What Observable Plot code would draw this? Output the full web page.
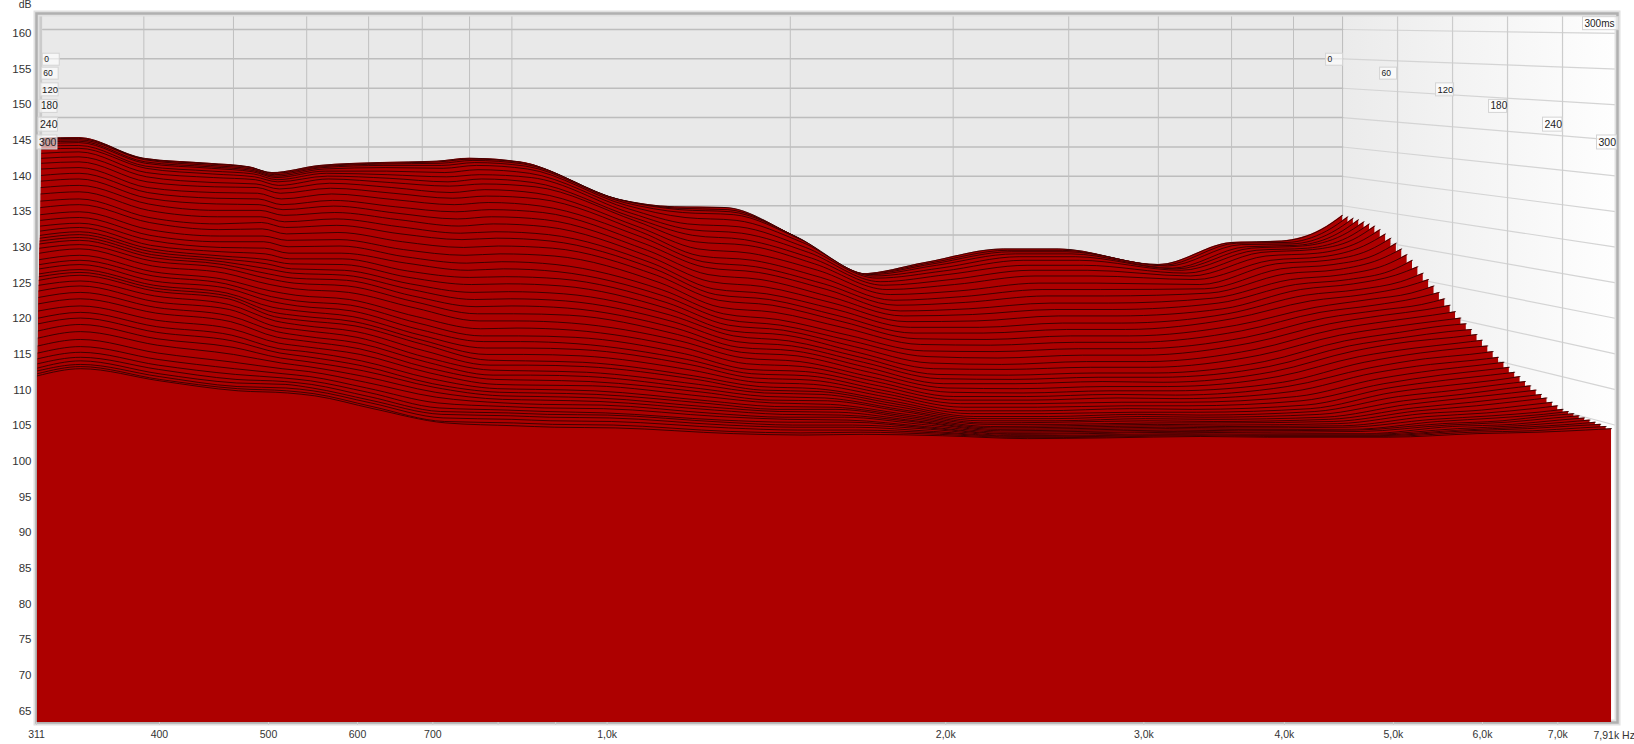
<!DOCTYPE html>
<html>
<head>
<meta charset="utf-8">
<script src="https://cdn.jsdelivr.net/npm/d3@7"></script>
<script src="https://cdn.jsdelivr.net/npm/@observablehq/plot@0.6"></script>
<style>html,body{margin:0;padding:0;background:#fff}svg{display:block}</style>
</head>
<body>
<div id="chart"></div>
<script>
// Waterfall: one array per frequency, one value per 6 ms slice (0…300 ms),
// each value being the level as read on the left dB axis.
const h311=[145.3,145.2,145.2,145.0,144.8,144.5,144.2,143.8,143.2,142.5,141.8,141.0,140.1,139.3,138.4,137.5,136.5,135.6,134.6,133.8,133.0,132.3,131.7,131.3,130.9,130.5,129.9,129.2,128.3,127.6,127.0,126.3,125.9,125.4,124.7,123.9,123.0,122.1,121.1,120.1,119.3,118.3,117.3,116.2,115.2,114.4,113.7,113.1,112.7,112.3,112.0];
const h340=[145.4,145.3,145.3,145.1,144.9,144.7,144.3,143.9,143.4,142.7,142.0,141.2,140.4,139.6,138.7,137.8,136.8,136.0,135.0,134.2,133.4,132.8,132.2,131.8,131.4,131.0,130.4,129.8,128.9,128.2,127.6,126.9,126.5,126.1,125.3,124.6,123.7,122.8,121.8,120.9,120.1,119.2,118.2,117.1,116.1,115.3,114.6,114.1,113.6,113.3,113.0];
const h400=[142.5,142.4,142.4,142.3,142.0,141.8,141.4,141.1,140.5,139.9,139.2,138.4,137.7,136.9,136.1,135.2,134.2,133.5,132.5,131.7,131.0,130.3,129.8,129.4,129.0,128.6,128.1,127.4,126.6,126.0,125.3,124.7,124.3,123.9,123.2,122.4,121.6,120.8,119.8,118.9,118.1,117.2,116.3,115.2,114.3,113.5,112.9,112.3,111.9,111.5,111.3];
const h470=[141.8,141.7,141.7,141.5,141.3,141.1,140.7,140.3,139.8,139.1,138.5,137.7,136.9,136.1,135.2,134.3,133.3,132.5,131.6,130.8,130.0,129.4,128.8,128.4,128.0,127.6,127.1,126.4,125.5,124.9,124.3,123.6,123.2,122.8,122.0,121.3,120.4,119.6,118.6,117.7,116.9,116.0,115.0,113.9,113.0,112.2,111.5,111.0,110.5,110.2,109.9];
const h520=[141.3,141.2,141.2,141.0,140.8,140.6,140.3,139.9,139.5,138.9,138.4,137.6,136.8,136.0,135.2,134.3,133.5,132.6,131.6,130.8,129.9,129.1,128.3,127.7,127.0,126.3,125.6,124.8,123.9,123.1,122.4,121.6,120.9,120.3,119.7,118.9,118.2,117.4,116.6,115.8,115.2,114.5,113.8,113.0,112.3,111.7,111.2,110.8,110.3,109.9,109.6];
const h550=[140.5,140.4,140.4,140.2,140.0,139.8,139.5,139.2,138.7,138.2,137.6,136.8,136.0,135.3,134.5,133.6,132.8,131.9,131.0,130.1,129.2,128.4,127.7,127.0,126.4,125.7,125.0,124.2,123.3,122.5,121.8,121.1,120.4,119.8,119.1,118.4,117.6,116.9,116.1,115.4,114.7,114.0,113.3,112.6,111.9,111.3,110.8,110.3,109.9,109.5,109.2];
const h620=[141.5,141.4,141.3,141.2,141.0,140.7,140.4,140.0,139.6,139.0,138.3,137.5,136.6,135.8,134.9,134.0,133.1,132.1,131.1,130.2,129.2,128.4,127.6,126.8,126.1,125.4,124.6,123.7,122.7,121.9,121.1,120.3,119.6,119.0,118.2,117.4,116.6,115.8,115.0,114.1,113.4,112.7,111.9,111.1,110.3,109.7,109.1,108.6,108.2,107.7,107.4];
const h720=[141.9,141.8,141.7,141.5,141.2,140.7,140.2,139.7,139.1,138.4,137.6,136.7,135.7,134.8,133.9,132.9,131.9,130.8,129.7,128.7,127.8,126.7,125.8,124.9,124.1,123.2,122.4,121.5,120.3,119.4,118.5,117.7,117.0,116.4,115.5,114.6,113.9,113.1,112.4,111.6,110.9,110.4,109.7,109.0,108.2,107.5,107.0,106.6,106.1,105.6,105.4];
const h830=[142.1,142.0,141.8,141.5,141.1,140.5,139.9,139.2,138.6,137.7,136.9,136.0,135.0,134.0,133.0,132.0,131.1,130.0,128.9,127.8,126.8,125.8,124.8,123.7,122.7,121.7,120.7,119.7,118.6,117.6,116.8,115.9,115.0,114.2,113.5,112.8,112.1,111.5,110.8,110.2,109.7,109.2,108.7,108.2,107.7,107.2,106.8,106.4,105.9,105.4,105.0];
const h900=[142.5,142.4,142.2,141.9,141.5,140.9,140.2,139.6,138.9,138.1,137.2,136.3,135.3,134.3,133.3,132.2,131.3,130.2,129.1,128.0,127.0,125.9,124.9,123.8,122.8,121.8,120.7,119.7,118.7,117.6,116.8,115.9,115.0,114.1,113.5,112.7,112.1,111.4,110.7,110.1,109.6,109.1,108.6,108.0,107.5,107.0,106.6,106.2,105.7,105.2,104.8];
const h1020=[142.0,141.9,141.7,141.4,141.0,140.4,139.8,139.1,138.5,137.6,136.8,135.8,134.9,133.9,132.9,131.8,130.9,129.9,128.8,127.6,126.6,125.6,124.6,123.5,122.5,121.5,120.5,119.4,118.4,117.4,116.5,115.7,114.8,113.9,113.3,112.5,111.9,111.2,110.6,109.9,109.4,108.9,108.4,107.9,107.4,106.8,106.5,106.1,105.6,105.1,104.7];
const h1300=[136.8,136.7,136.6,136.3,135.9,135.4,134.8,134.2,133.7,132.9,132.2,131.4,130.5,129.6,128.7,127.8,127.0,126.1,125.1,124.1,123.2,122.3,121.4,120.5,119.6,118.7,117.8,116.9,116.0,115.1,114.3,113.6,112.8,112.0,111.5,110.8,110.2,109.7,109.1,108.5,108.1,107.6,107.2,106.7,106.3,105.8,105.5,105.1,104.7,104.2,103.9];
const h1500=[135.7,135.5,135.3,134.9,134.2,133.3,132.5,131.7,130.8,129.8,128.8,128.0,127.2,126.2,125.2,124.2,123.4,122.6,121.6,120.7,119.9,119.1,118.3,117.6,116.8,116.0,115.3,114.5,113.7,112.9,112.3,111.7,111.1,110.5,110.0,109.6,109.1,108.6,108.2,107.7,107.3,107.0,106.6,106.2,105.9,105.5,105.1,104.8,104.4,104.0,103.7];
const h1700=[135.6,135.3,135.0,134.6,133.8,132.9,132.0,131.1,130.3,129.2,128.2,127.3,126.5,125.5,124.5,123.5,122.7,121.9,120.9,119.9,119.1,118.4,117.7,116.9,116.2,115.5,114.8,114.0,113.3,112.6,112.0,111.4,110.8,110.2,109.8,109.4,108.9,108.5,108.0,107.6,107.3,106.9,106.5,106.2,105.8,105.5,105.1,104.8,104.4,104.1,103.8];
const h2000=[131.9,131.7,131.5,131.2,130.7,130.0,129.3,128.5,127.7,126.8,125.8,124.9,124.1,123.1,122.2,121.3,120.4,119.6,118.7,117.7,116.9,116.1,115.3,114.6,113.9,113.2,112.5,111.8,111.2,110.6,110.0,109.5,109.0,108.5,108.1,107.7,107.3,107.0,106.6,106.3,106.0,105.7,105.5,105.2,104.9,104.7,104.5,104.2,104.0,103.8,103.6];
const h2380=[126.3,126.3,126.3,126.2,126.0,125.7,125.2,124.7,124.1,123.4,122.6,121.9,121.1,120.4,119.6,118.8,118.0,117.2,116.4,115.5,114.7,113.8,113.0,112.2,111.6,110.9,110.3,109.7,109.1,108.6,108.1,107.6,107.1,106.7,106.3,106.0,105.7,105.4,105.2,104.9,104.7,104.5,104.3,104.1,103.9,103.8,103.6,103.5,103.4,103.3,103.2];
const h2800=[127.9,127.8,127.7,127.5,127.1,126.7,126.2,125.5,124.8,123.9,123.1,122.3,121.4,120.6,119.7,118.8,118.0,117.1,116.3,115.4,114.5,113.6,112.9,112.1,111.5,110.9,110.2,109.6,109.1,108.6,108.1,107.6,107.1,106.7,106.3,106.0,105.7,105.5,105.2,105.0,104.8,104.6,104.4,104.2,104.0,103.9,103.7,103.6,103.5,103.4,103.3];
const h3400=[129.8,129.6,129.4,129.1,128.7,128.2,127.5,126.8,126.0,125.0,124.1,123.2,122.2,121.3,120.4,119.4,118.5,117.6,116.7,115.8,114.9,114.0,113.2,112.4,111.8,111.2,110.5,109.9,109.4,108.9,108.3,107.8,107.4,106.9,106.6,106.3,106.0,105.7,105.4,105.2,105.0,104.8,104.6,104.4,104.2,104.1,103.9,103.8,103.7,103.6,103.5];
const h3900=[129.8,129.6,129.4,129.1,128.7,128.2,127.5,126.8,126.0,125.0,124.1,123.2,122.2,121.3,120.4,119.4,118.5,117.6,116.7,115.8,114.9,114.0,113.2,112.4,111.8,111.1,110.5,109.9,109.3,108.8,108.3,107.8,107.3,106.9,106.5,106.2,105.9,105.6,105.4,105.1,104.9,104.7,104.5,104.3,104.1,104.0,103.8,103.7,103.6,103.5,103.4];
const h5000=[127.6,127.5,127.4,127.1,127.0,126.8,126.4,126.0,125.5,124.8,124.2,123.6,122.9,122.2,121.4,120.7,120.0,119.1,118.3,117.4,116.6,115.7,114.9,114.0,113.3,112.6,111.9,111.1,110.5,109.8,109.1,108.5,107.9,107.4,107.0,106.6,106.2,105.9,105.6,105.3,105.0,104.8,104.5,104.4,104.2,103.9,103.8,103.7,103.6,103.5,103.4];
const h6000=[130.7,130.6,130.4,130.1,129.9,129.6,129.3,128.8,128.2,127.7,127.0,126.3,125.5,124.8,124.1,123.3,122.5,121.6,120.9,120.1,119.3,118.5,117.7,116.9,116.2,115.5,114.7,113.9,113.1,112.4,111.6,110.9,110.3,109.7,109.1,108.5,108.0,107.5,107.1,106.7,106.3,105.9,105.6,105.3,105.1,104.9,104.6,104.4,104.3,104.1,103.9];
const h6800=[130.9,130.7,130.5,130.3,130.2,129.9,129.7,129.2,128.7,128.2,127.6,126.9,126.2,125.5,124.9,124.1,123.4,122.7,121.9,121.2,120.5,119.7,118.9,118.1,117.4,116.8,115.9,115.2,114.4,113.6,112.8,112.1,111.4,110.7,110.0,109.4,108.9,108.3,107.8,107.2,106.8,106.4,106.1,105.7,105.5,105.2,105.0,104.8,104.6,104.3,104.1];
const h7500=[132.5,132.3,132.1,131.9,131.7,131.4,131.1,130.7,130.2,129.6,128.9,128.3,127.5,126.7,126.1,125.2,124.5,123.6,122.9,122.0,121.3,120.5,119.7,119.0,118.2,117.4,116.6,115.9,115.0,114.2,113.5,112.8,112.1,111.4,110.8,110.2,109.6,109.0,108.5,107.9,107.4,106.9,106.6,106.4,106.1,105.8,105.5,105.2,105.0,104.7,104.4];
const h7910=[134.5,134.3,134.1,133.9,133.6,133.3,133.0,132.5,131.9,131.3,130.6,129.8,129.0,128.2,127.3,126.4,125.5,124.6,123.7,122.8,121.9,121.0,120.1,119.3,118.5,117.8,117.0,116.2,115.4,114.6,113.9,113.2,112.5,111.9,111.2,110.6,110.0,109.4,108.9,108.3,107.8,107.3,107.0,106.7,106.4,106.1,105.8,105.5,105.2,104.9,104.6];

const columnHz=[311,340,400,470,520,550,620,720,830,900,1020,1300,1500,1700,2000,2380,2800,3400,3900,5000,6000,6800,7500,7910];
const columns=[h311,h340,h400,h470,h520,h550,h620,h720,h830,h900,h1020,h1300,h1500,h1700,h2000,h2380,h2800,h3400,h3900,h5000,h6000,h6800,h7500,h7910];

const sliceStepMs=6, lastMs=300;
const dbTicks=[160,155,150,145,140,135,130,125,120,115,110,105,100,95,90,85,80,75,70,65];
const wallDb=[160,155,150,145,140,135,130,125,120,115,110,105];
const hzTicks=[311,400,500,600,700,800,900,1000,2000,3000,4000,5000,6000,7000];
const hzLabels=["311","400","500","600","700","800","900","1,0k","2,0k","3,0k","4,0k","5,0k","6,0k","7,0k"];
const gridHz=[400,500,600,700,800,900,1000,2000,3000,4000,5000,6000,7000];
const timeMs=[0,60,120,180,240,300];
const timeLabelDb=[156.35,154.4,152.1,149.8,147.2,144.7];   // where each label sits on the dB axis
const timeLabelSize=[8.5,8.5,9.5,10,10.5,10.5];
const timeBoxWidth=[17,17,18,18,19.5,20];
const rightLabelLead=[-15,-16,-15,-17,-18,-19];

// Projection of a (frequency, time, level) into the plane of the front axes.
const hzMin=311, hzMax=7910, dbMin=63.4, dbMax=162.8;
const backL=315, backR=4506, frontL=311.6, frontR=7814;
const lerp=(a,b,s)=>a+(b-a)*s;
const sliceHz=(f,s,fr=frontR)=>{
  const g=Math.log(f/hzMin)/Math.log(hzMax/hzMin);
  return Math.exp(lerp(lerp(Math.log(backL),Math.log(frontL),s),lerp(Math.log(backR),Math.log(fr),s),g));
};
const wallHz=s=>sliceHz(hzMax,s,hzMax);
const wallLevel=(v,s)=>lerp(160.56-(160-v)*0.8237,v,s);

const red="#ad0000";
const marks=[
  Plot.rect([0],{x1:backL,x2:backR,y1:dbMin,y2:dbMax,fill:"#e9e9e9"}),
  Plot.rect([0],{x1:backR,x2:hzMax,y1:dbMin,y2:dbMax,fill:"#010203"}),
  Plot.rect([0],{x1:hzMin,x2:backL,y1:dbMin,y2:dbMax,fill:"#cbcbcb"}),
];
// right-wall grid
for (const v of wallDb) marks.push(Plot.line([0,1],{x:s=>wallHz(s),y:s=>wallLevel(v,s),stroke:"#d4d4d4",strokeWidth:1.2}));
marks.push(Plot.ruleX(timeMs.slice(1,-1),{x:t=>wallHz(t/lastMs),y1:dbMin,y2:dbMax,stroke:"#cccccc",strokeWidth:1.2}));
// back-wall grid
for (const v of wallDb) marks.push(Plot.line([0,1],{x:s=>s?backR:backL,y:()=>wallLevel(v,0),stroke:"#bdbdbd"}));
marks.push(Plot.ruleX(gridHz,{x:f=>sliceHz(f,0),y1:dbMin,y2:dbMax,stroke:"#c0c0c0"}));
marks.push(Plot.ruleX([backR],{y1:dbMin,y2:dbMax,stroke:"#bbbbbb"}));
// frame sits under the slices
marks.push(Plot.frame({stroke:"#e0e0e0",strokeWidth:6}));
marks.push(Plot.frame({stroke:"#b0b0b0",strokeWidth:2.5}));
// slices, back to front
h311.forEach((_,i)=>{
  const s=i*sliceStepMs/lastMs;
  const pts=columnHz.map((f,c)=>({x:sliceHz(f,s),y:columns[c][i]}));
  marks.push(Plot.areaY(pts,{x:"x",y1:dbMin,y2:"y",curve:"monotone-x",fill:red}));
  marks.push(Plot.line(pts,{x:"x",y:"y",curve:"monotone-x",stroke:"#1a0000",strokeWidth:0.85,strokeOpacity:0.9}));
});
// time labels
timeMs.forEach((t,k)=>{
  const s=t/lastMs, row=[t];
  marks.push(Plot.text(row,{x:()=>sliceHz(hzMin,s),y:()=>timeLabelDb[k],text:String,fontSize:timeLabelSize[k],textAnchor:"start",dx:1.5,fill:"#111112"}));
  marks.push(Plot.text(row,{x:()=>wallHz(s),y:()=>timeLabelDb[k],text:String,fontSize:timeLabelSize[k],textAnchor:"start",dx:rightLabelLead[k],fill:"#111112"}));
});
marks.push(Plot.text(["300ms"],{x:hzMax,y:160,dy:-10,dx:-3,text:d=>d,fontSize:10,textAnchor:"end",fill:"#111112"}));
// axes
marks.push(Plot.axisY({ticks:dbTicks,label:null,tickSize:0,tickPadding:5,tickFormat:d=>String(d),fontSize:11.5,fill:"#333"}));
marks.push(Plot.axisX({ticks:hzTicks,label:null,tickFormat:f=>hzLabels[hzTicks.indexOf(f)],tickSize:3,tickPadding:5,fontSize:10.5,stroke:"#d0d0d0",fill:"#333"}));
marks.push(Plot.text(["dB"],{x:hzMin,y:dbMax,dx:-5,dy:-9,text:d=>d,textAnchor:"end",fontSize:10.5,fill:"#333"}));
marks.push(Plot.text(["7,91k Hz"],{x:hzMax,y:dbMin,dx:-24,dy:13,text:d=>d,textAnchor:"start",fontSize:10.5,fill:"#333"}));

const svg=Plot.plot({
  width:1634,height:744,marginLeft:36,marginRight:17,marginTop:13,marginBottom:22,
  style:{background:"#fff",fontFamily:"'Liberation Sans',Arial,sans-serif",color:"#333",overflow:"visible"},
  x:{type:"log",domain:[hzMin,hzMax],range:[36,1617],axis:null},
  y:{type:"linear",domain:[dbMin,dbMax],range:[722,13],axis:null},
  marks
});
document.getElementById("chart").appendChild(svg);

// gradient on the right wall, white boxes behind the time labels
const root=d3.select(svg);
const grad=root.append("defs").append("linearGradient").attr("id","wallFade");
grad.append("stop").attr("offset","0").attr("stop-color","#ebebeb");
grad.append("stop").attr("offset","1").attr("stop-color","#fefefe");
root.selectAll('[fill="#010203"]').attr("fill","url(#wallFade)");
root.selectAll('[fill="#111112"] text').each(function(){
  const b=this.getBBox();
  const k=timeMs.indexOf(+this.textContent);
  const w=k<0?b.width+6:timeBoxWidth[k];
  d3.select(this.parentNode).insert("rect",()=>this)
    .attr("transform",this.getAttribute("transform"))
    .attr("x",b.x-2).attr("y",b.y-1).attr("width",w).attr("height",b.height+2)
    .attr("fill","#ffffff").attr("fill-opacity",0.62).attr("stroke","#d4d4d4");
});
root.selectAll('[fill="#111112"]').attr("fill","#222");
</script>
</body>
</html>
